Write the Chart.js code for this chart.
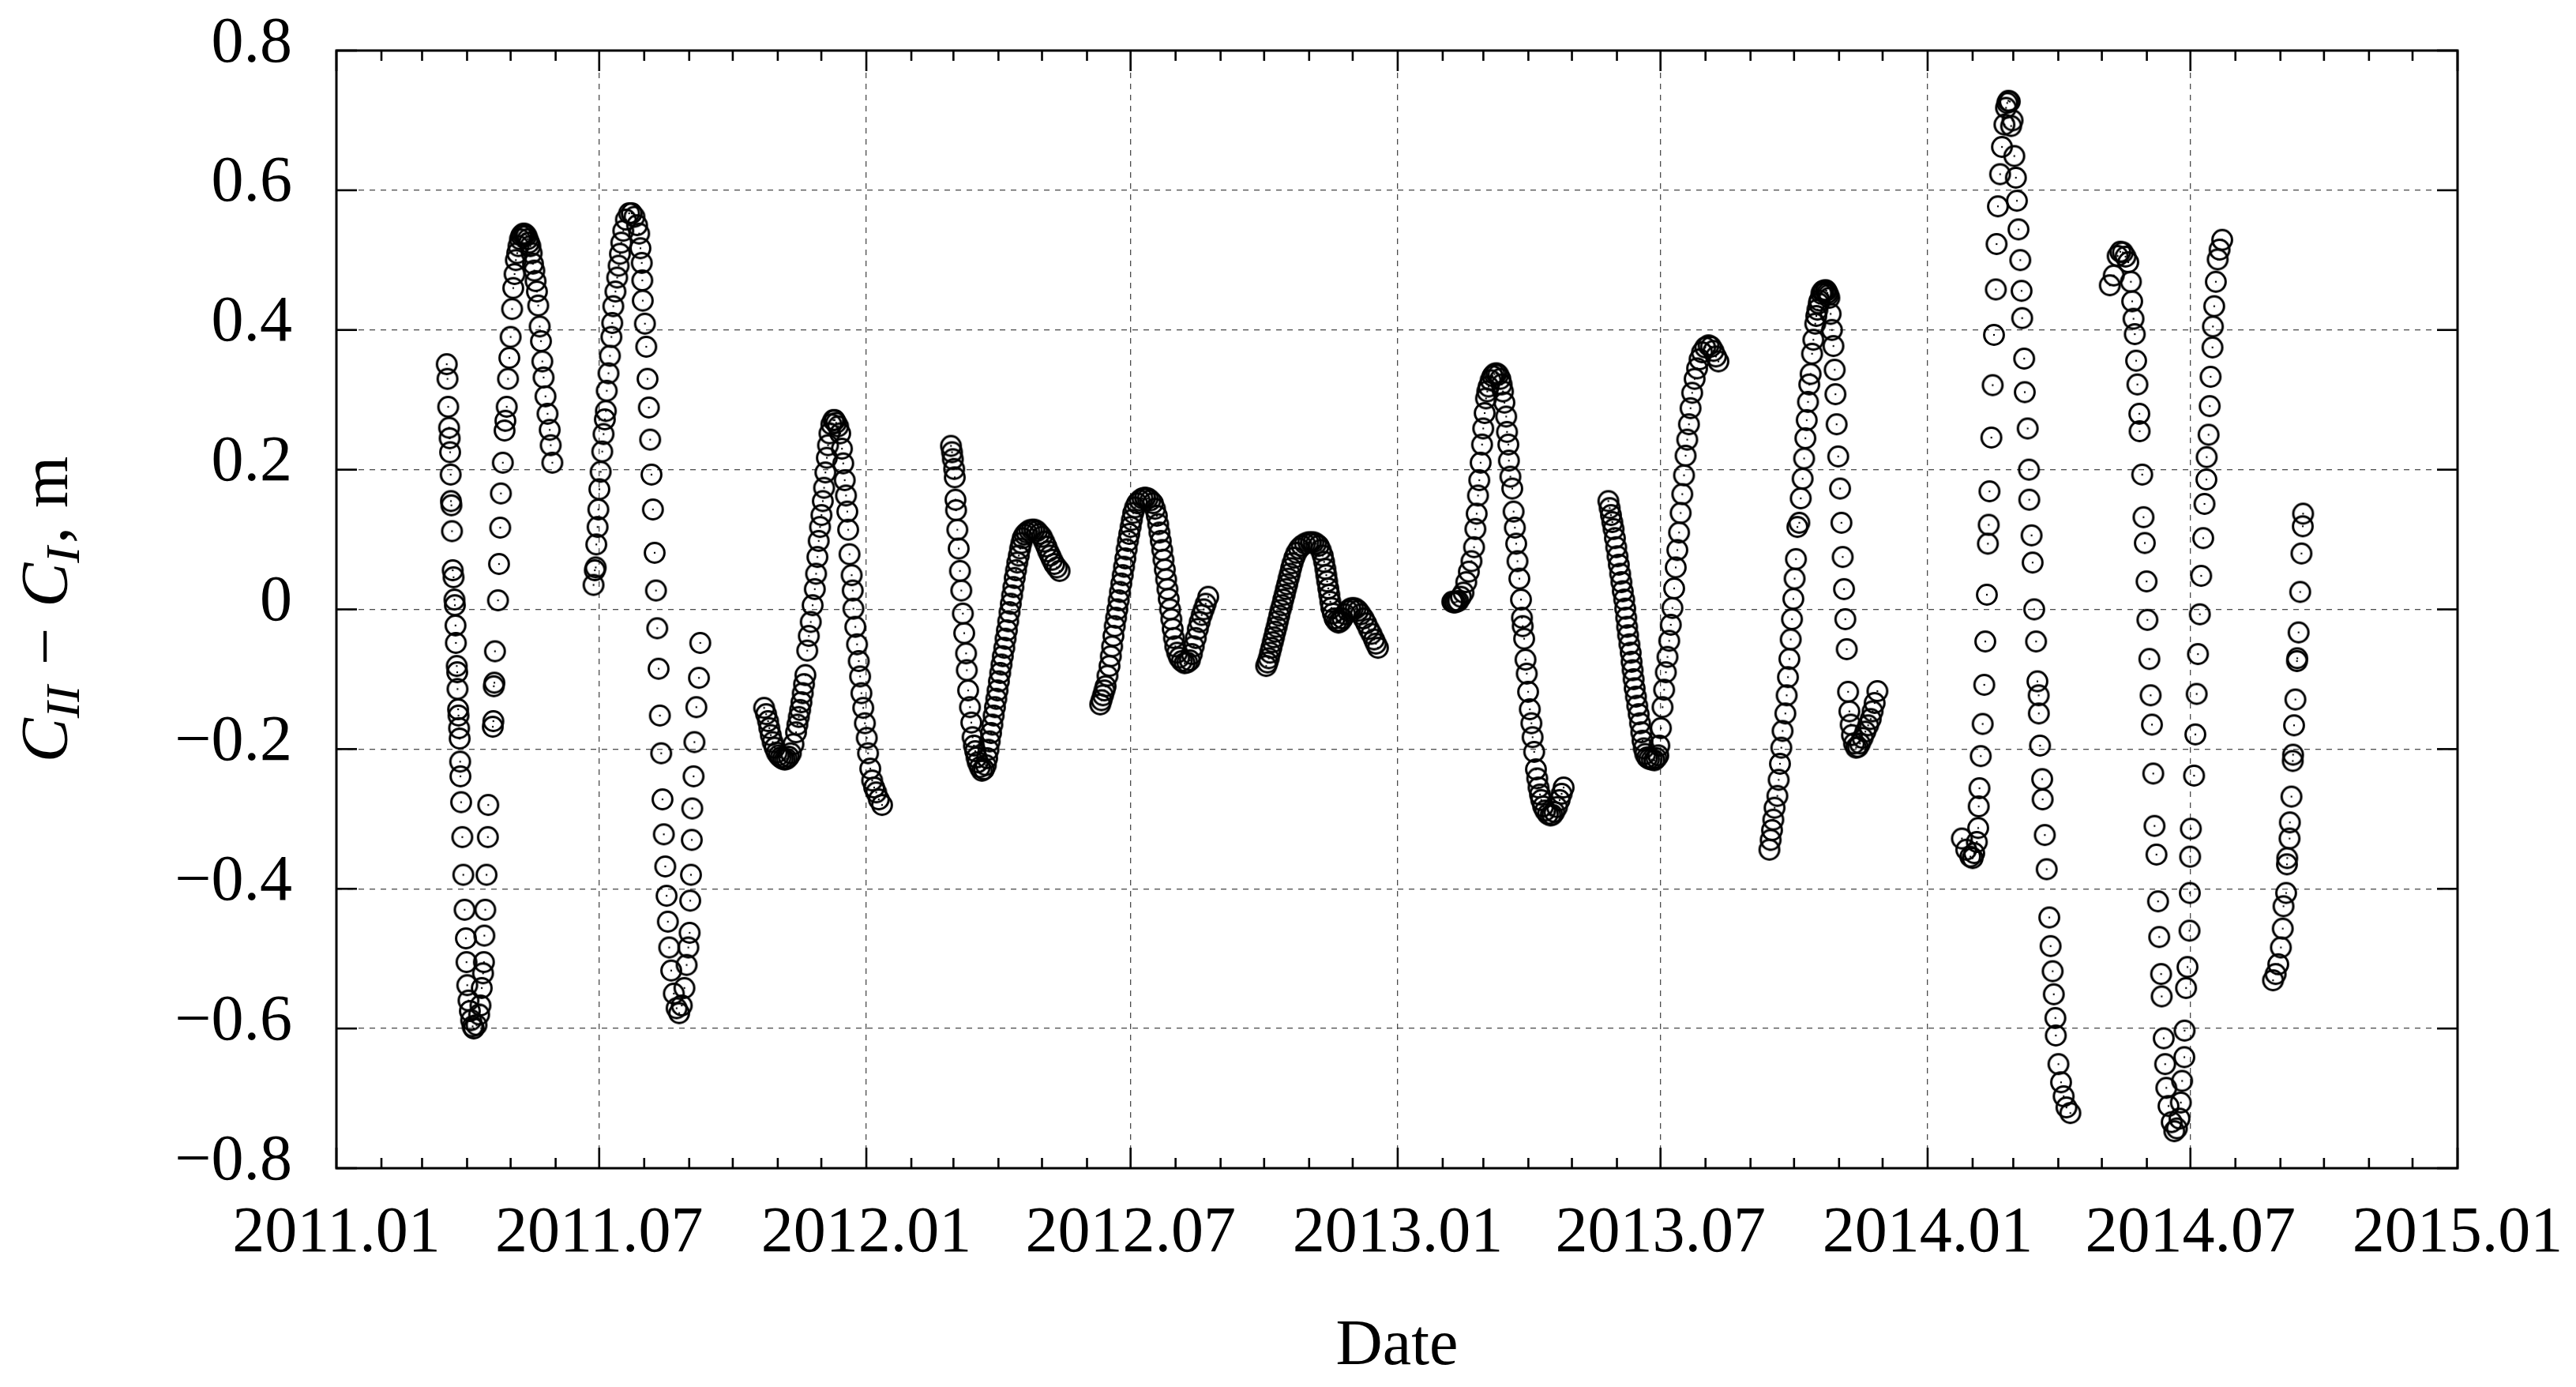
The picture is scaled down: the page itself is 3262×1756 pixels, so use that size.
<!DOCTYPE html>
<html><head><meta charset="utf-8">
<script src="https://cdn.jsdelivr.net/npm/chart.js@4/dist/chart.umd.min.js"></script>
<style>html,body{margin:0;padding:0;background:#fff}#wrap{width:3262px;height:1756px}</style>
</head><body><div id="wrap"><canvas id="c" width="3262" height="1756"></canvas></div>
<script>
// ---- DATA: [days since 2011-01-01, C_II - C_I in metres] ----
const s2011Spring = [[76.0,0.351],[76.5,0.330],[77.0,0.290],[77.6,0.260],[78.0,0.245],[78.3,0.225],[78.7,0.193],[78.9,0.155],[79.2,0.149],[79.6,0.112],[80.1,0.056],[80.7,0.046],[81.3,0.014],[81.6,0.006],[82.0,-0.023],[82.3,-0.048],[82.9,-0.081],[83.2,-0.090],[83.4,-0.114],[83.8,-0.143],[84.1,-0.152],[84.5,-0.170],[84.9,-0.185],[85.2,-0.218],[85.4,-0.239],[85.9,-0.276],[86.7,-0.326],[87.4,-0.380],[88.3,-0.430],[89.2,-0.471],[89.6,-0.505],[90.1,-0.538],[91.0,-0.560],[91.9,-0.575],[92.8,-0.588],[93.8,-0.597],[94.6,-0.600],[96.5,-0.595],[98.3,-0.580],[99.2,-0.567],[100.1,-0.542],[101.0,-0.521],[101.6,-0.505],[101.9,-0.467],[102.5,-0.430],[103.4,-0.380],[104.3,-0.326],[104.6,-0.280],[107.7,-0.168],[108.1,-0.160],[108.4,-0.110],[108.8,-0.105],[109.2,-0.060],[111.3,0.013],[112.0,0.065],[112.8,0.117],[113.3,0.166],[114.6,0.210],[115.8,0.256],[116.4,0.270],[117.3,0.290],[118.2,0.330],[119.1,0.360],[120.0,0.390],[121.0,0.430],[121.8,0.460],[122.7,0.480],[123.6,0.500],[124.5,0.510],[125.4,0.520],[126.4,0.530],[127.3,0.535],[128.2,0.537],[129.1,0.538],[130.0,0.537],[130.9,0.535],[131.8,0.530],[132.7,0.525],[133.6,0.520],[134.5,0.510],[135.4,0.495],[136.3,0.485],[137.2,0.470],[138.1,0.455],[139.0,0.435],[140.0,0.405],[140.9,0.384],[141.8,0.355],[142.7,0.332],[144.0,0.305],[145.4,0.280],[146.9,0.257],[147.6,0.235],[148.7,0.210]];
const s2011Summer = [[177.1,0.035],[178.0,0.056],[178.6,0.060],[179.0,0.093],[179.9,0.118],[180.4,0.143],[181.1,0.172],[182.0,0.197],[183.1,0.226],[184.0,0.251],[184.9,0.272],[185.6,0.284],[186.2,0.313],[187.4,0.338],[188.4,0.363],[189.4,0.390],[190.0,0.410],[190.7,0.434],[192.2,0.455],[193.4,0.475],[194.4,0.492],[195.3,0.509],[196.2,0.525],[197.6,0.542],[199.4,0.558],[201.6,0.567],[203.4,0.567],[205.3,0.562],[207.1,0.550],[208.5,0.538],[209.4,0.517],[210.3,0.496],[210.7,0.471],[211.0,0.442],[212.5,0.409],[213.4,0.376],[214.3,0.330],[215.2,0.289],[216.1,0.243],[217.0,0.193],[218.0,0.143],[219.2,0.081],[220.1,0.027],[221.0,-0.027],[221.9,-0.085],[222.8,-0.152],[223.7,-0.206],[224.6,-0.272],[225.5,-0.322],[226.5,-0.368],[227.4,-0.410],[228.3,-0.447],[229.2,-0.484],[230.6,-0.517],[232.4,-0.550],[234.3,-0.571],[236.1,-0.578],[237.9,-0.567],[239.7,-0.542],[241.2,-0.509],[242.4,-0.484],[243.3,-0.463],[243.7,-0.417],[244.2,-0.380],[244.8,-0.330],[245.1,-0.285],[246.0,-0.239],[246.6,-0.190],[247.9,-0.140],[249.7,-0.098],[250.6,-0.048]];
const s2011Autumn = [[294.6,-0.141],[296.0,-0.150],[297.3,-0.160],[298.2,-0.170],[299.2,-0.180],[300.5,-0.190],[301.9,-0.198],[303.3,-0.205],[304.7,-0.209],[306.0,-0.212],[307.4,-0.214],[308.8,-0.215],[310.2,-0.214],[311.6,-0.211],[313.0,-0.206],[314.8,-0.193],[316.6,-0.176],[317.5,-0.165],[318.5,-0.154],[319.4,-0.144],[320.3,-0.133],[321.2,-0.120],[322.1,-0.107],[323.0,-0.094],[324.3,-0.059],[325.4,-0.038],[326.7,-0.018],[328.0,0.006],[329.5,0.029],[330.4,0.051],[331.3,0.075],[332.2,0.098],[333.1,0.118],[334.1,0.135],[335.0,0.155],[335.9,0.174],[336.8,0.196],[337.8,0.217],[338.6,0.235],[339.6,0.252],[340.9,0.265],[342.3,0.271],[343.2,0.271],[344.2,0.267],[345.6,0.262],[347.0,0.252],[348.2,0.230],[349.1,0.209],[350.1,0.185],[351.0,0.163],[351.9,0.140],[352.5,0.114],[353.4,0.079],[354.9,0.049],[355.6,0.027],[356.1,0.001],[357.4,-0.025],[358.6,-0.050],[359.8,-0.074],[360.7,-0.096],[361.6,-0.120],[362.9,-0.141],[364.0,-0.163],[365.3,-0.184],[366.2,-0.206],[367.7,-0.228],[369.0,-0.245],[370.4,-0.255],[371.8,-0.262],[373.6,-0.272],[375.8,-0.280]];
const s2012Spring = [[423.3,0.234],[424.0,0.225],[424.6,0.215],[425.5,0.201],[425.9,0.189],[426.4,0.157],[426.8,0.142],[427.7,0.114],[428.6,0.087],[429.5,0.055],[430.4,0.027],[431.5,-0.006],[432.4,-0.034],[433.7,-0.063],[434.2,-0.087],[435.1,-0.116],[436.4,-0.140],[437.3,-0.162],[438.2,-0.183],[439.1,-0.195],[440.0,-0.203],[440.9,-0.212],[441.8,-0.219],[443.2,-0.226],[444.6,-0.231],[446.0,-0.229],[447.3,-0.223],[448.2,-0.213],[449.1,-0.201],[450.0,-0.189],[450.9,-0.177],[451.8,-0.165],[452.7,-0.152],[453.6,-0.140],[454.5,-0.128],[455.4,-0.116],[456.3,-0.103],[457.2,-0.091],[458.1,-0.079],[459.0,-0.067],[460.0,-0.055],[460.9,-0.042],[461.8,-0.030],[462.7,-0.017],[463.6,-0.004],[464.5,0.008],[465.4,0.020],[466.3,0.032],[467.2,0.045],[468.1,0.056],[469.0,0.067],[470.0,0.077],[470.9,0.087],[471.8,0.095],[472.7,0.102],[474.0,0.107],[475.4,0.110],[477.2,0.113],[479.0,0.114],[480.8,0.114],[482.6,0.112],[484.2,0.108],[485.9,0.104],[487.5,0.097],[489.0,0.090],[490.3,0.083],[491.7,0.077],[493.0,0.071],[494.4,0.065],[496.2,0.060],[498.1,0.055]];
const s2012Summer = [[526.1,-0.136],[527.0,-0.130],[528.0,-0.123],[529.0,-0.116],[529.8,-0.110],[531.1,-0.095],[532.5,-0.081],[533.4,-0.067],[534.3,-0.053],[535.2,-0.038],[536.1,-0.024],[537.0,-0.012],[537.9,0.000],[538.8,0.013],[539.7,0.025],[540.6,0.037],[541.6,0.049],[542.5,0.061],[543.4,0.073],[544.3,0.086],[545.2,0.098],[546.1,0.108],[547.0,0.118],[547.9,0.128],[548.8,0.138],[550.1,0.146],[551.5,0.152],[553.3,0.156],[555.2,0.159],[557.0,0.160],[558.8,0.159],[560.6,0.156],[562.4,0.152],[563.8,0.144],[565.1,0.134],[566.0,0.122],[566.9,0.110],[567.8,0.098],[568.8,0.085],[569.7,0.071],[570.6,0.057],[571.5,0.043],[572.4,0.029],[573.3,0.015],[574.2,0.000],[575.1,-0.014],[576.0,-0.028],[576.9,-0.041],[577.8,-0.053],[579.1,-0.062],[580.5,-0.069],[582.3,-0.074],[584.2,-0.077],[586.0,-0.076],[587.8,-0.073],[589.2,-0.064],[590.5,-0.053],[591.9,-0.041],[593.3,-0.028],[594.6,-0.018],[596.0,-0.008],[597.4,0.000],[598.7,0.008],[600.5,0.018]];
const s2012Autumn = [[640.4,-0.081],[641.3,-0.076],[642.2,-0.070],[643.1,-0.062],[644.0,-0.055],[644.9,-0.047],[645.8,-0.040],[646.7,-0.032],[647.6,-0.025],[648.5,-0.017],[649.4,-0.009],[650.3,-0.001],[651.3,0.006],[652.2,0.014],[653.1,0.021],[654.0,0.029],[654.9,0.036],[655.8,0.044],[656.7,0.051],[657.6,0.059],[658.5,0.066],[659.8,0.074],[661.2,0.081],[663.0,0.087],[664.9,0.091],[667.1,0.094],[669.4,0.096],[671.2,0.096],[673.0,0.096],[674.8,0.094],[676.6,0.091],[678.0,0.085],[679.4,0.077],[680.3,0.068],[681.2,0.058],[681.8,0.049],[682.4,0.040],[683.2,0.030],[683.9,0.021],[684.6,0.011],[685.3,0.002],[686.4,-0.006],[687.5,-0.013],[688.9,-0.017],[690.2,-0.019],[691.6,-0.017],[693.0,-0.013],[694.8,-0.007],[696.6,-0.002],[698.4,0.001],[700.2,0.002],[702.0,0.001],[703.8,-0.002],[705.6,-0.007],[707.5,-0.013],[709.3,-0.020],[711.1,-0.028],[712.9,-0.035],[714.7,-0.043],[716.0,-0.049],[717.4,-0.055]];
const s2013Spring = [[768.6,0.011],[769.5,0.010],[770.5,0.010],[771.6,0.011],[772.7,0.012],[774.5,0.018],[776.3,0.024],[778.2,0.039],[780.0,0.054],[781.8,0.069],[783.6,0.089],[784.5,0.115],[785.4,0.137],[786.3,0.163],[787.2,0.185],[788.1,0.210],[789.1,0.236],[789.9,0.259],[790.9,0.281],[791.8,0.302],[792.7,0.312],[793.6,0.319],[795.0,0.328],[796.3,0.334],[797.6,0.337],[799.0,0.338],[800.3,0.336],[801.7,0.330],[802.6,0.322],[803.5,0.312],[804.5,0.296],[805.7,0.276],[806.3,0.254],[807.2,0.236],[807.6,0.213],[808.6,0.190],[809.9,0.173],[810.8,0.140],[811.7,0.117],[812.6,0.094],[813.5,0.069],[814.8,0.044],[815.9,0.014],[816.6,-0.012],[817.1,-0.024],[818.1,-0.042],[819.0,-0.072],[819.9,-0.092],[820.8,-0.118],[822.0,-0.143],[823.1,-0.163],[823.9,-0.183],[825.0,-0.204],[826.2,-0.229],[827.1,-0.242],[828.0,-0.255],[829.0,-0.265],[829.9,-0.273],[831.2,-0.282],[832.6,-0.288],[834.4,-0.293],[836.2,-0.295],[837.5,-0.294],[838.9,-0.290],[840.7,-0.283],[842.5,-0.273],[843.9,-0.264],[845.3,-0.255]];
const s2013Summer = [[876.1,0.155],[877.0,0.145],[877.9,0.135],[878.8,0.125],[879.7,0.115],[880.6,0.102],[881.5,0.089],[882.4,0.076],[883.3,0.064],[884.2,0.051],[885.1,0.039],[886.0,0.026],[887.0,0.014],[887.7,0.001],[888.4,-0.012],[889.0,-0.025],[889.7,-0.037],[890.6,-0.050],[891.5,-0.062],[892.1,-0.075],[892.8,-0.087],[893.5,-0.100],[894.2,-0.113],[895.1,-0.125],[896.0,-0.138],[897.0,-0.150],[897.9,-0.163],[898.8,-0.176],[899.6,-0.188],[900.5,-0.199],[901.5,-0.207],[902.8,-0.212],[904.2,-0.214],[906.0,-0.215],[907.8,-0.216],[909.2,-0.213],[910.5,-0.209],[911.2,-0.195],[912.3,-0.170],[913.4,-0.140],[914.5,-0.115],[915.7,-0.090],[916.8,-0.068],[918.0,-0.045],[919.1,-0.022],[920.2,0.002],[921.4,0.030],[922.5,0.060],[923.6,0.085],[924.8,0.110],[925.9,0.138],[927.0,0.165],[928.2,0.192],[929.3,0.220],[930.4,0.243],[931.6,0.265],[932.7,0.288],[933.8,0.310],[935.5,0.330],[937.2,0.345],[938.9,0.358],[940.6,0.368],[942.8,0.375],[945.1,0.378],[946.8,0.376],[948.5,0.370],[950.2,0.362],[951.9,0.355]];
const s2013Autumn = [[987.0,-0.344],[987.9,-0.330],[988.8,-0.316],[989.7,-0.301],[990.6,-0.284],[992.5,-0.267],[993.4,-0.244],[994.3,-0.221],[995.2,-0.198],[996.1,-0.174],[998.0,-0.149],[998.9,-0.123],[999.8,-0.097],[1000.8,-0.071],[1001.7,-0.043],[1002.6,-0.014],[1003.5,0.015],[1004.4,0.044],[1005.3,0.072],[1006.3,0.118],[1007.6,0.124],[1008.6,0.159],[1009.9,0.187],[1010.9,0.216],[1011.8,0.245],[1012.7,0.271],[1013.6,0.297],[1014.5,0.322],[1015.4,0.337],[1016.4,0.366],[1017.3,0.386],[1018.6,0.409],[1019.3,0.420],[1020.1,0.429],[1021.0,0.438],[1021.5,0.442],[1022.8,0.452],[1023.5,0.455],[1024.2,0.456],[1025.6,0.457],[1026.3,0.456],[1027.0,0.453],[1027.6,0.450],[1028.3,0.446],[1029.2,0.423],[1030.1,0.400],[1031.1,0.377],[1032.0,0.343],[1032.5,0.308],[1033.3,0.265],[1034.4,0.219],[1035.7,0.173],[1036.6,0.124],[1037.5,0.075],[1038.4,0.029],[1039.3,-0.014],[1040.3,-0.057],[1041.2,-0.118],[1042.1,-0.146],[1043.0,-0.165],[1043.9,-0.180],[1045.3,-0.192],[1046.7,-0.198],[1048.0,-0.197],[1049.4,-0.192],[1051.2,-0.184],[1053.1,-0.175],[1055.0,-0.166],[1056.8,-0.157],[1058.1,-0.146],[1059.5,-0.134],[1061.4,-0.117]];
const s2014Spring = [[1119.6,-0.328],[1122.6,-0.344],[1125.4,-0.354],[1127.0,-0.356],[1128.1,-0.349],[1129.9,-0.333],[1130.8,-0.313],[1131.2,-0.282],[1131.7,-0.256],[1132.6,-0.210],[1133.9,-0.164],[1135.0,-0.108],[1135.7,-0.046],[1136.8,0.021],[1137.5,0.094],[1138.1,0.121],[1138.6,0.169],[1139.9,0.246],[1140.8,0.321],[1141.7,0.393],[1143.0,0.458],[1143.5,0.523],[1144.4,0.577],[1145.9,0.623],[1147.2,0.662],[1148.9,0.694],[1150.0,0.718],[1150.8,0.725],[1151.6,0.728],[1152.6,0.727],[1153.5,0.692],[1154.5,0.700],[1155.7,0.649],[1156.8,0.618],[1157.5,0.585],[1158.6,0.544],[1159.8,0.500],[1160.7,0.456],[1161.1,0.417],[1162.5,0.359],[1162.9,0.311],[1164.9,0.259],[1165.8,0.200],[1166.0,0.157],[1167.6,0.106],[1168.3,0.067],[1169.4,0.000],[1170.7,-0.046],[1171.6,-0.103],[1172.5,-0.123],[1172.6,-0.149],[1173.4,-0.195],[1174.9,-0.243],[1175.2,-0.272],[1176.7,-0.323],[1178.0,-0.372],[1179.8,-0.441],[1180.7,-0.482],[1182.1,-0.518],[1182.9,-0.551],[1184.0,-0.585],[1184.3,-0.610],[1186.1,-0.651],[1187.9,-0.677],[1189.7,-0.697],[1191.6,-0.713],[1194.3,-0.721]];
const s2014Summer = [[1221.5,0.464],[1224.2,0.478],[1226.9,0.506],[1228.7,0.512],[1230.5,0.511],[1232.3,0.505],[1234.2,0.497],[1236.0,0.469],[1236.9,0.441],[1237.8,0.416],[1238.7,0.394],[1239.6,0.356],[1240.5,0.322],[1241.8,0.280],[1242.0,0.255],[1243.8,0.193],[1244.7,0.132],[1245.6,0.095],[1246.8,0.040],[1247.4,-0.015],[1248.7,-0.071],[1249.6,-0.123],[1250.5,-0.165],[1251.4,-0.235],[1252.3,-0.310],[1253.6,-0.351],[1254.7,-0.418],[1255.5,-0.469],[1256.8,-0.522],[1257.2,-0.554],[1258.6,-0.614],[1259.6,-0.651],[1260.4,-0.685],[1261.9,-0.711],[1264.1,-0.734],[1265.9,-0.747],[1267.7,-0.743],[1269.5,-0.729],[1270.4,-0.706],[1271.3,-0.675],[1272.8,-0.641],[1273.0,-0.603],[1274.0,-0.542],[1275.0,-0.512],[1276.4,-0.460],[1276.6,-0.406],[1276.8,-0.354],[1277.3,-0.314],[1279.5,-0.238],[1280.4,-0.179],[1281.3,-0.121],[1282.2,-0.064],[1283.5,-0.007],[1284.4,0.048],[1285.8,0.102],[1286.7,0.151],[1288.0,0.186],[1288.2,0.218],[1289.5,0.250],[1290.3,0.291],[1290.9,0.333],[1292.2,0.375],[1292.5,0.405],[1293.4,0.434],[1294.5,0.469],[1295.8,0.501],[1297.1,0.515],[1298.9,0.529]];
const s2014Autumn = [[1333.9,-0.531],[1335.7,-0.522],[1337.5,-0.508],[1339.3,-0.484],[1340.6,-0.457],[1341.1,-0.425],[1342.9,-0.406],[1343.5,-0.365],[1343.7,-0.356],[1345.3,-0.328],[1345.5,-0.305],[1346.6,-0.268],[1347.5,-0.217],[1347.7,-0.208],[1348.4,-0.166],[1349.3,-0.129],[1350.4,-0.074],[1350.6,-0.070],[1351.5,-0.033],[1352.6,0.025],[1353.5,0.080],[1354.4,0.119],[1354.6,0.137]];

const xTickLabels = ['2011.01','2011.07','2012.01','2012.07','2013.01','2013.07','2014.01','2014.07','2015.01'];
const yTicks = [-0.8,-0.6,-0.4,-0.2,0,0.2,0.4,0.6,0.8];
const xTitle = 'Date';

// ---- helpers ----
const EPOCH = Date.UTC(2011,0,1);
const dayOf = (y,m) => (Date.UTC(y,m-1,1)-EPOCH)/86400000;
const xTickDays = xTickLabels.map(s => dayOf(+s.slice(0,4), +s.slice(5)));
const segments = [s2011Spring,s2011Summer,s2011Autumn,s2012Spring,s2012Summer,s2012Autumn,s2013Spring,s2013Summer,s2013Autumn,s2014Spring,s2014Summer,s2014Autumn];
const points = segments.flatMap(s => s.map(([x,y]) => ({x,y})));

const FONT = '"Liberation Serif", "Times New Roman", serif';
Chart.defaults.font.family = FONT;
Chart.defaults.color = '#000';

// open circle marker with a tiny centre dot
const marker = document.createElement('canvas');
marker.width = 34; marker.height = 34;
(() => { const m = marker.getContext('2d');
  m.strokeStyle = '#000'; m.lineWidth = 3.0;
  m.beginPath(); m.arc(17,17,12.4,0,Math.PI*2); m.stroke();
  m.fillStyle = '#000'; m.beginPath(); m.arc(17,17,1.2,0,Math.PI*2); m.fill(); })();

const framePlugin = {
  id: 'frame',
  afterDatasetsDraw(chart) {
    const {ctx, chartArea: a, scales: {x, y}} = chart;
    const line = (x1,y1,x2,y2) => { ctx.beginPath(); ctx.moveTo(x1,y1); ctx.lineTo(x2,y2); ctx.stroke(); };
    ctx.save();
    ctx.strokeStyle = '#000'; ctx.lineWidth = 2.6;
    for (let yr = 2011; yr <= 2015; yr++) for (let m = 1; m <= 12; m++) {
      const d = dayOf(yr, m); if (d < x.min || d > x.max) continue;
      const px = x.getPixelForValue(d);
      const len = (m === 1 || m === 7) ? 26 : 13;
      line(px, a.bottom, px, a.bottom - len); line(px, a.top, px, a.top + len);
    }
    yTicks.forEach(v => { const py = y.getPixelForValue(v); line(a.left, py, a.left + 26, py); line(a.right, py, a.right - 26, py); });
    ctx.lineWidth = 3;
    ctx.strokeRect(a.left, a.top, a.right - a.left, a.bottom - a.top);
    ctx.restore();
  }
};

const yTitlePlugin = {
  id: 'yTitle',
  afterDraw(chart) {
    const {ctx, chartArea: a} = chart;
    const big = 'italic 84px ' + FONT, sub = 'italic 62px ' + FONT, up = '84px ' + FONT;
    const parts = [
      {t:'C', f:big, dy:0, gap:0}, {t:'II', f:sub, dy:15, gap:0},
      {t:'\u2212', f:up, dy:0, gap:26}, {t:'C', f:big, dy:0, gap:26},
      {t:'I', f:sub, dy:15, gap:0}, {t:',', f:up, dy:0, gap:4}, {t:'m', f:up, dy:0, gap:24}
    ];
    ctx.save();
    let total = 0;
    parts.forEach(p => { ctx.font = p.f; p.w = ctx.measureText(p.t).width; total += p.w + p.gap; });
    ctx.translate(85, (a.top + a.bottom) / 2);
    ctx.rotate(-Math.PI / 2);
    ctx.fillStyle = '#000'; ctx.textBaseline = 'alphabetic'; ctx.textAlign = 'left';
    let cx = -total / 2;
    parts.forEach(p => { cx += p.gap; ctx.font = p.f; ctx.fillText(p.t, cx, p.dy); cx += p.w; });
    ctx.restore();
  }
};

const gridCommon = { color: 'rgba(0,0,0,0.7)', lineWidth: 1.3, drawTicks: false };

new Chart(document.getElementById('c'), {
  type: 'scatter',
  data: { datasets: [{
    data: points,
    pointStyle: marker,
    pointRadius: 13,
    showLine: false
  }]},
  options: {
    responsive: false, animation: false, devicePixelRatio: 1,
    layout: { padding: { left: 0, right: 150, top: 64, bottom: 0 } },
    plugins: { legend: { display: false }, tooltip: { enabled: false } },
    scales: {
      x: {
        type: 'linear', min: 0, max: xTickDays[xTickDays.length - 1],
        afterBuildTicks: s => { s.ticks = xTickDays.map(v => ({value: v})); },
        afterFit: s => { s.height = 277; s.paddingLeft = 0; s.paddingRight = 0; },
        ticks: { autoSkip: false, maxRotation: 0, padding: 34, font: { size: 82 },
          callback: (v, i) => xTickLabels[i] },
        grid: gridCommon,
        border: { display: false, dash: [7, 7] },
        title: { display: true, text: xTitle, font: { size: 82 }, padding: { top: 0, bottom: 1 } }
      },
      y: {
        type: 'linear', min: yTicks[0], max: yTicks[yTicks.length - 1],
        afterBuildTicks: s => { s.ticks = yTicks.map(v => ({value: v})); },
        afterFit: s => { s.width = 426; s.paddingTop = 0; s.paddingBottom = 0; },
        ticks: { padding: 56, labelOffset: -8, font: { size: 82 },
          callback: v => Math.abs(v) < 1e-9 ? '0' : (v < 0 ? '\u2212' : '') + Math.abs(v).toFixed(1) },
        grid: gridCommon,
        border: { display: false, dash: [7, 7] }
      }
    }
  },
  plugins: [framePlugin, yTitlePlugin]
});
</script></body></html>
